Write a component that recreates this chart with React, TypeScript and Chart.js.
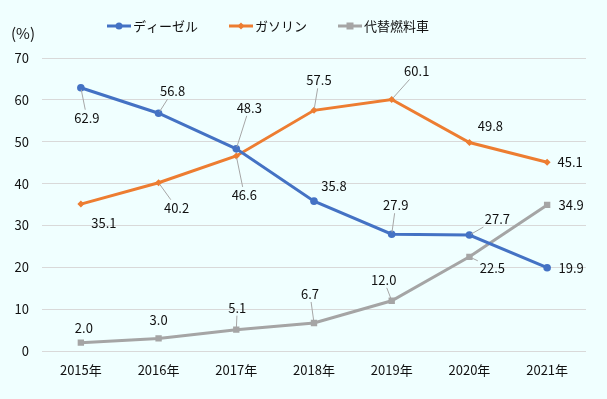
import React, { useEffect, useRef } from "react";
import { Chart, registerables } from "chart.js";
Chart.register(...registerables);

const categories = ["2015年", "2016年", "2017年", "2018年", "2019年", "2020年", "2021年"];
const seriesNames = ["ディーゼル", "ガソリン", "代替燃料車"];
const diesel = [62.9, 56.8, 48.3, 35.8, 27.9, 27.7, 19.9];
const gasoline = [35.1, 40.2, 46.6, 57.5, 60.1, 49.8, 45.1];
const alternative = [2.0, 3.0, 5.1, 6.7, 12.0, 22.5, 34.9];
const yMin = 0;
const yMax = 70;
const yStep = 10;
const yUnit = "(%)";

// label placement relative to each point: [dx, dy, leader line]
const labelOffsets = [
  [[6, 30, 1], [14, -22, 1], [13, -41, 1], [20, -15, 0], [4, -29, 1], [28, -16, 1], [24, 0, 0]],
  [[23, 19, 0], [18, 25, 1], [8, 39, 1], [5, -30, 1], [25, -28, 1], [21, -16, 0], [23, 0, 0]],
  [[3, -15, 0], [0, -18, 0], [1, -22, 1], [-4, -29, 1], [-8, -21, 1], [23, 11, 1], [24, 0, 0]],
];

const FONT = "'Noto Sans CJK JP', 'Noto Sans', sans-serif";
const TEXT = "#111111";
const colors = ["#4472C4", "#ED7D31", "#A5A5A5"];
const pointStyles = ["circle", "rectRot", "rect"];
const pointRadii = [3.8, 3.5, 4.5];

const labelPlugin = {
  id: "labelsAndLegend",
  afterDatasetsDraw(chart: any) {
    const ctx = chart.ctx;
    ctx.save();
    ctx.font = `13px ${FONT}`;
    ctx.textAlign = "center";
    ctx.textBaseline = "middle";
    chart.data.datasets.forEach((ds: any, di: number) => {
      const meta = chart.getDatasetMeta(di);
      meta.data.forEach((pt: any, i: number) => {
        const v = ds.data[i];
        const txt = v.toFixed(1);
        const [dx, dy, leader] = labelOffsets[di][i];
        const cx = pt.x + dx;
        const cy = pt.y + dy;
        if (leader) {
          const w = ctx.measureText(txt).width / 2 + 2;
          const h = 8;
          const vx = pt.x - cx;
          const vy = pt.y - cy;
          const t = Math.min(Math.abs(w / (vx || 1e-6)), Math.abs(h / (vy || 1e-6)));
          const ex = cx + vx * t;
          const ey = cy + vy * t;
          const len = Math.hypot(vx, vy);
          const sx = pt.x - (vx / len) * 2;
          const sy = pt.y - (vy / len) * 2;
          ctx.strokeStyle = "#a6a6a6";
          ctx.lineWidth = 1;
          ctx.beginPath();
          ctx.moveTo(sx, sy);
          ctx.lineTo(ex, ey);
          ctx.stroke();
        }
        ctx.fillStyle = TEXT;
        ctx.fillText(txt, cx, cy);
      });
    });
    ctx.restore();
  },
  afterDraw(chart: any) {
    const ctx = chart.ctx;
    ctx.save();
    ctx.textBaseline = "middle";
    ctx.textAlign = "left";
    ctx.fillStyle = TEXT;
    ctx.font = `15px ${FONT}`;
    ctx.fillText(yUnit, 11, 33);
    ctx.font = `13px ${FONT}`;
    let x = 107;
    const y = 26;
    seriesNames.forEach((name, i) => {
      ctx.strokeStyle = colors[i];
      ctx.lineWidth = 3;
      ctx.beginPath();
      ctx.moveTo(x, y);
      ctx.lineTo(x + 24, y);
      ctx.stroke();
      ctx.fillStyle = colors[i];
      const mx = x + 12;
      ctx.beginPath();
      if (i === 0) {
        ctx.arc(mx, y, 3.5, 0, Math.PI * 2);
      } else if (i === 1) {
        ctx.moveTo(mx, y - 3.5);
        ctx.lineTo(mx + 3.5, y);
        ctx.lineTo(mx, y + 3.5);
        ctx.lineTo(mx - 3.5, y);
        ctx.closePath();
      } else {
        ctx.rect(mx - 3.5, y - 3.5, 7, 7);
      }
      ctx.fill();
      ctx.fillStyle = TEXT;
      ctx.fillText(name, x + 26, y);
      x += 26 + ctx.measureText(name).width + 31;
    });
    ctx.restore();
  },
};

export default function App() {
  const ref = useRef<HTMLCanvasElement>(null);
  useEffect(() => {
    document.body.style.margin = "0";
    const series = [diesel, gasoline, alternative];
    const chart = new Chart(ref.current as HTMLCanvasElement, {
      type: "line",
      data: {
        labels: categories,
        datasets: series.map((d, i) => ({
          label: seriesNames[i],
          data: d,
          borderColor: colors[i],
          backgroundColor: colors[i],
          borderWidth: 3,
          pointStyle: pointStyles[i] as any,
          pointRadius: pointRadii[i],
          pointBorderWidth: 0,
          tension: 0,
        })),
      },
      options: {
        animation: false,
        responsive: true,
        maintainAspectRatio: false,
        layout: { padding: { left: 0, right: 21, top: 58, bottom: 0 } },
        plugins: { legend: { display: false }, tooltip: { enabled: false } },
        scales: {
          x: {
            offset: true,
            grid: { display: false, drawTicks: false },
            border: { display: false },
            ticks: { color: TEXT, font: { family: FONT, size: 13 }, padding: 11, maxRotation: 0 },
            afterFit: (s: any) => { s.height = 48; },
          },
          y: {
            min: yMin,
            max: yMax,
            grid: { color: "#d9d9d9", drawTicks: false, lineWidth: 1 },
            border: { display: false },
            ticks: { stepSize: yStep, color: TEXT, font: { family: FONT, size: 13 }, padding: 13 },
            afterFit: (s: any) => { s.width = 42; },
          },
        },
      },
      plugins: [labelPlugin],
    });
    return () => chart.destroy();
  }, []);
  return (
    <div style={{ position: "fixed", left: 0, top: 0, width: 607, height: 399, background: "#f0ffff" }}>
      <canvas ref={ref} />
    </div>
  );
}
